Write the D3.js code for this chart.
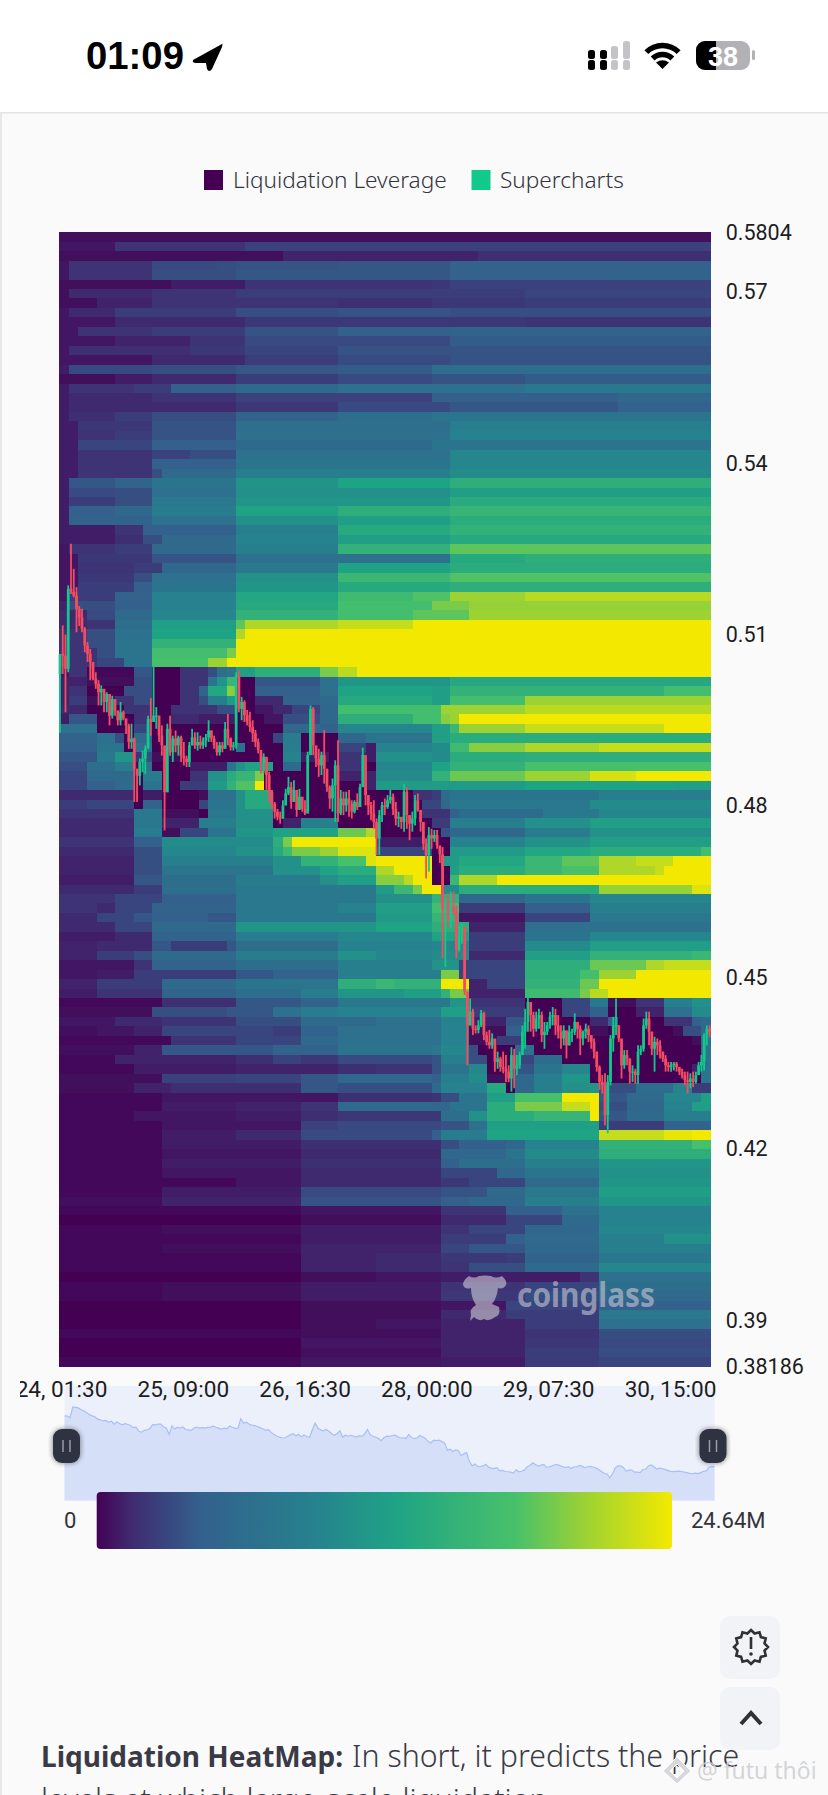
<!DOCTYPE html>
<html><head><meta charset="utf-8">
<style>html,body{margin:0;padding:0;background:#fafafa;overflow:hidden}svg{display:block}</style>
<script src="https://cdn.jsdelivr.net/npm/d3@7"></script>
</head><body><svg id="c" width="828" height="1795"></svg>
<script>
// ---- labels ----
const priceTicks=[0.5804,0.57,0.54,0.51,0.48,0.45,0.42,0.39,0.38186];
const priceLabels=["0.5804","0.57","0.54","0.51","0.48","0.45","0.42","0.39","0.38186"];
const timeLabels=["24, 01:30","25, 09:00","26, 16:30","28, 00:00","29, 07:30","30, 15:00"];
const legendNames=["Liquidation Leverage","Supercharts"];
const colorMin="0",colorMax="24.64M";
const colorDomain=[0,6,18,38,52,73,85,100];
const colorRange=["#440154","#3f2a70","#33608d","#26828e","#1fa385","#49c16a","#9dd233","#f3e900"];
// ---- heatmap: one list per price bucket, top to bottom. [level, fromColumn, level, fromColumn, level ...], level in % of 24.64M
const heatRows=[
[2],
[3,6,8,20,11],
[2,24,5,45,7],
[3,1,8,10,13,17,14,19,15,30,16,42,19],
[3,1,8,10,14,19,16,42,19,60,20],
[2,12,4,20,8,40,9,42,11],
[2,1,6,10,8,19,10,50,12],
[2,4,5,10,8,30,7,40,9,50,10],
[3,1,6,6,10,19,14,30,15,42,14],
[3,6,6,20,9,50,8],
[3,2,8,10,10,20,15,30,18,42,20],
[3,6,5,14,8,20,13,42,17],
[3,1,7,14,9,20,12,30,15,42,15],
[3,10,6,20,10,30,13,42,15],
[4,1,13,10,14,19,16,30,17,40,26],
[2,6,4,10,6,19,10,30,13,40,15,50,17],
[4,1,8,8,10,12,18,19,24,30,28,50,32],
[4,1,6,10,8,19,11,40,18,60,22],
[4,1,6,19,9,30,13,42,16,60,19],
[4,1,7,6,10,10,14,19,20,30,26,40,30],
[4,2,9,10,15,19,27,42,35],
[4,2,8,6,10,10,15,19,28,42,38],
[4,2,12,10,18,19,24,40,30],
[4,2,8,10,11,14,14,19,28,42,40],
[4,2,8,10,18,19,30,42,40],
[4,2,8,10,14,11,24,19,36,42,42],
[4,1,16,6,20,10,30,19,45,30,52,42,60],
[4,1,13,6,14,10,28,19,44,42,50],
[4,1,10,6,14,10,32,19,46,42,57],
[4,1,18,6,22,10,34,19,52,30,60,42,64],
[4,1,20,10,28,19,44,30,50,42,58],
[4,6,8,9,18,19,36,30,56,42,62],
[4,6,7,9,14,11,24,19,38,30,50,42,56],
[3,1,8,6,10,10,24,19,36,30,62,42,76],
[3,2,9,10,15,19,28,42,56,50,60],
[3,2,8,8,10,11,22,19,32,30,52,42,58],
[3,2,9,8,14,10,28,19,44,30,66,42,74],
[3,2,10,8,18,10,30,19,46,30,56,42,60],
[3,1,10,6,20,10,38,19,54,30,68,38,74,42,85,50,90],
[5,1,14,6,18,10,38,19,56,30,70,40,80,44,84],
[6,3,13,6,24,10,40,19,62,30,70,38,76,44,85],
[6,3,8,6,26,10,50,19,76,20,88,30,92,38,100],
[8,3,14,6,28,10,52,19,88,20,100],
[8,3,14,6,30,10,62,19,100],
[8,4,14,6,30,10,70,18,80,19,100],
[8,4,12,7,30,10,72,16,85,18,100],
[3,1,8,3,1,8,16,10,0,13,8,16,14,17,26,18,30,19,50,21,60,28,80,30,90,32,100],
[5,3,2,8,14,10,0,13,8,16,30,17,45,18,65,19,0,21,16,28,28,30,46,42,55],
[5,1,8,3,0,7,14,10,0,13,8,15,20,16,54,18,82,19,0,21,18,28,28,30,52,40,50,42,62,65,70],
[5,1,10,3,2,6,8,8,14,10,0,13,8,15,14,16,36,18,48,19,0,21,6,24,20,28,24,30,56,40,50,42,70,50,85],
[6,3,0,7,8,10,0,12,8,17,14,19,0,21,3,23,6,25,12,28,22,30,70,41,85,50,90],
[4,1,16,4,0,8,8,10,0,12,6,15,4,19,0,22,3,24,14,28,22,30,60,38,70,41,82,42,85,43,100],
[28,4,0,8,12,10,0,24,22,28,20,30,40,40,50,42,66,43,85,50,92,65,100],
[20,4,28,6,14,7,0,8,24,10,0,23,12,24,34,26,0,30,22,33,30,40,50,42,58],
[18,4,30,7,0,8,28,10,0,19,28,20,0,24,36,26,0,30,12,33,4,34,38,40,42,42,68,44,82,50,88,58,92],
[16,4,32,6,46,8,8,9,14,10,2,13,0,24,38,26,4,29,0,30,8,33,4,34,44,40,42,42,58,50,60],
[14,3,26,6,34,8,2,9,28,10,0,14,4,18,30,19,45,20,52,23,0,24,24,26,0,30,8,33,0,34,40,40,52,42,62,50,72],
[12,3,24,8,0,9,34,11,0,14,8,16,44,18,58,19,64,21,80,22,0,30,5,34,42,40,62,42,78,50,85,57,95,62,100],
[12,3,18,6,24,8,0,9,30,11,0,13,10,16,48,18,62,19,74,21,100,22,0,33,5,34,48,40,48,50,52,66,50],
[6,8,0,9,4,11,0,15,2,16,28,19,44,20,56,23,0,38,8,40,10,41,25,42,30,58,35],
[10,3,12,8,0,9,20,11,0,15,12,16,30,19,44,20,56,23,0,39,12,41,22,42,32,57,42],
[8,8,32,11,2,15,0,16,32,19,44,23,0,39,8,42,18,43,25,52,32,58,40],
[6,8,32,11,5,15,36,19,44,23,0,24,5,26,36,30,0,40,10,42,36,50,44,57,50],
[6,8,34,11,2,13,12,16,30,19,46,23,52,30,78,33,88,34,0,41,15,42,22,50,34,57,44],
[8,8,18,11,42,23,60,24,80,25,100,34,4,40,0,42,38,50,44,57,50],
[6,8,14,11,40,19,44,23,56,24,68,25,80,28,85,30,96,34,12,40,0,42,48,50,54,57,58,69,70],
[5,8,14,11,36,23,44,26,62,30,72,33,96,34,100,40,0,41,48,43,54,50,66,54,76,58,88,62,92,66,100],
[5,8,14,11,30,23,44,28,52,30,58,34,88,36,100,40,0,42,50,43,58,50,66,54,72,58,88,64,92,65,100],
[4,8,16,11,26,19,34,28,44,30,50,34,82,37,90,38,100,40,0,42,66,43,88,47,100],
[6,8,10,11,26,19,32,34,48,36,66,38,80,39,100,41,42,43,58,58,84,68,96],
[8,6,12,11,18,19,32,34,44,40,62,43,22,50,30,57,40],
[8,4,6,6,12,10,20,19,32,30,38,34,50,40,70,43,10,50,18,57,36],
[6,4,12,8,16,10,18,16,16,19,32,34,48,40,64,43,3,50,12,57,32],
[6,6,12,10,24,19,46,34,52,40,60,44,5,50,28],
[4,6,6,10,20,19,34,30,40,40,52,44,10,50,30,57,40],
[5,4,6,10,16,12,10,18,16,19,26,30,38,40,40,44,10,50,42,57,50],
[5,4,10,8,14,10,24,19,34,30,44,34,40,40,42,44,6,50,50,57,62,68,66],
[3,8,8,10,20,19,26,30,36,40,45,43,12,50,60,57,78,63,88,65,92],
[3,4,4,8,10,12,10,19,16,23,20,30,36,41,80,43,12,50,60,56,70,58,85,62,100],
[5,4,10,11,24,19,30,30,60,34,66,36,62,41,100,44,5,46,12,50,62,56,78,58,100],
[4,4,8,11,20,19,26,26,34,30,46,37,50,41,62,42,80,44,5,50,68,56,80,57,90,59,100],
[1,11,7,19,16,26,20,30,32,42,46,44,8,50,0,54,12,57,32,59,2,62,8,65,36,68,44],
[2,10,14,18,16,23,28,26,34,30,38,41,50,44,10,50,0,54,12,57,18,59,0,62,5,65,28,68,42],
[3,6,6,11,8,19,14,26,24,34,28,41,38,44,5,48,16,50,0,57,6,59,18,60,0,65,8,68,18,69,24],
[2,4,3,8,5,11,12,23,10,26,20,30,28,41,38,44,2,48,18,50,0,57,2,59,0,66,2,67,14,69,24],
[1,12,8,19,12,26,24,30,28,41,38,44,2,47,10,50,0,68,2,69,30],
[2,8,5,11,16,23,20,26,20,30,30,40,32,41,40,44,14,45,0,49,22,50,28,51,0,69,30],
[1,6,5,19,7,23,11,26,9,30,13,40,15,41,36,44,14,46,0,49,12,51,25,54,0,69,30],
[1,8,4,19,5,26,5,30,7,34,8,40,15,41,30,44,40,46,0,49,15,51,30,54,40,57,0,68,5,69,30],
[2,11,11,19,12,26,16,30,22,40,18,41,36,44,42,46,2,49,22,51,36,54,46,57,0,69,30],
[2,8,5,12,7,26,16,30,14,40,24,41,38,46,56,48,0,49,22,51,36,54,44,57,46,58,14,62,25,66,38,68,10],
[1,11,3,30,7,40,8,41,14,43,30,46,50,49,72,54,100,58,16,61,24,65,40,69,50],
[1,11,4,19,5,26,8,30,24,40,22,42,30,46,58,49,80,54,92,57,100,58,14,61,22,65,38,68,50],
[1,8,3,19,4,26,7,30,9,41,26,44,44,46,58,51,64,57,100,58,16,61,24,65,36],
[1,11,3,26,11,30,13,41,15,44,28,46,50,58,10,65,20],
[1,11,4,19,6,26,13,40,18,41,34,46,52,58,92,65,98,68,100],
[1,11,4,26,7,41,14,43,18,48,22,50,38,58,62,68,72],
[1,11,3,26,6,41,22,48,30,50,42,58,60],
[1,11,4,26,7,41,18,43,26,50,36,58,46],
[1,11,3,26,6,41,12,47,22,50,30,58,44],
[1,19,3,26,6,41,9,44,12,50,24,58,46],
[1,11,4,26,13,41,15,46,24,50,32,58,50],
[2,11,5,26,15,41,18,44,22,50,36,58,46],
[1,26,3,41,8,48,18,54,28,58,38],
[0,26,2,41,6,48,12,54,24,58,38],
[1,11,2,26,4,41,8,44,12,50,22,58,40],
[1,26,4,41,10,48,18,50,24,58,36,65,44],
[1,11,2,26,5,41,12,44,16,50,22,58,36],
[1,26,5,34,6,41,9,48,10,50,20,58,32],
[1,26,5,34,6,41,8,44,14,50,24,58,40],
[0,26,2,34,3,41,4,56,8,58,28],
[1,11,2,26,4,41,8,50,12,58,26],
[1,11,2,26,4,41,9,50,14,58,24],
[0,26,2,41,3,48,12,58,18],
[0,26,2,41,6,48,10,58,32],
[0,26,2,34,3,41,5,50,10,58,28],
[1,26,2,41,5,50,8,58,14],
[0,26,3,41,5,50,9,58,13],
[0,26,2,41,5,50,10,58,14],
[1,26,3,41,4,50,10,58,12]
];
const heatColumns=70;
// ---- candles, price in 1/10000 ----
const firstOpen=5031;
const candleHigh=[5066,5116,5100,5186,5259,5215,5183,5150,5145,5113,5087,5075,5052,5034,5020,5011,4999,4999,4976,4993,4987,4967,4982,4967,4953,4944,4944,4920,4865,4883,4897,4906,4958,4989,5046,4973,4958,4941,4888,4944,4958,4923,4932,4923,4923,4912,4888,4912,4935,4929,4929,4923,4920,4926,4950,4932,4923,4912,4912,4912,4947,4961,4920,4912,5034,5037,
4991,4985,4968,4965,4950,4933,4918,4895,4892,4883,4860,4828,4807,4795,4790,4810,4830,4851,4842,4845,4828,4830,4816,4810,4895,4976,4973,4903,4900,4895,4933,4865,4836,4848,4880,4915,4828,4825,4825,4828,4810,4810,4822,4839,4902,4842,4819,4807,4810,4778,4793,4807,4813,4819,4828,4822,4807,4790,4778,4839,4833,4784,4790,4819,4822,4790,4766,4743,4763,4760,4758,4758,4728,4728,
4638,4647,4650,4650,4626,4591,4594,4588,4475,4463,4445,4416,4425,4443,4440,4405,4408,4402,4381,4370,4361,4370,4364,4346,4378,4375,4364,4370,4416,4445,4472,4451,4440,4440,4445,4440,4422,4422,4440,4448,4445,4434,4416,4416,4407,4416,4410,4437,4422,4416,4407,4419,4416,4399,4393,4370,4346,4329,4332,4329,4399,4431,4463,4416,4375,4373,4373,4358,4346,4340,4381,4381,4428,4440,4440,4405,4396,4393,4390,4370,4364,4352,4352,4352,4352,4343,4340,4335,4335,4332,4335,4335,4352,4364,4402,4416,4416];
const candleLow=[4928,5031,4964,5034,5171,5165,5104,5115,5104,5069,5052,5020,5020,5005,4976,4976,4964,4964,4941,4953,4958,4941,4941,4950,4926,4900,4900,4807,4807,4836,4859,4856,4912,4923,4950,4935,4912,4888,4757,4824,4888,4877,4894,4888,4877,4871,4868,4868,4906,4900,4897,4900,4900,4903,4912,4912,4900,4888,4888,4894,4900,4906,4897,4897,4900,4964,
4950,4947,4941,4930,4912,4903,4892,4857,4857,4828,4807,4795,4778,4775,4769,4778,4801,4819,4795,4813,4781,4795,4790,4784,4787,4889,4889,4868,4851,4854,4839,4825,4795,4790,4772,4772,4784,4784,4790,4781,4778,4787,4793,4801,4833,4801,4784,4775,4760,4714,4714,4772,4784,4795,4804,4784,4766,4763,4760,4755,4760,4740,4755,4766,4790,4755,4723,4673,4685,4725,4737,4725,4700,4533,
4518,4588,4586,4609,4533,4545,4559,4469,4346,4416,4399,4402,4402,4413,4390,4381,4375,4375,4335,4340,4335,4332,4317,4317,4300,4306,4329,4340,4364,4375,4405,4405,4396,4405,4410,4387,4375,4399,4410,4416,4399,4393,4375,4381,4358,4381,4387,4399,4393,4364,4381,4393,4387,4375,4358,4335,4303,4297,4241,4227,4311,4370,4399,4387,4323,4340,4346,4314,4317,4314,4314,4364,4370,4410,4381,4364,4335,4364,4358,4352,4335,4335,4335,4337,4335,4329,4323,4311,4297,4306,4308,4314,4329,4335,4337,4381,4395];
const candleClose=[5066,5063,5040,5180,5175,5168,5145,5130,5110,5081,5066,5052,5023,5014,4999,5005,4982,4996,4958,4987,4967,4950,4964,4953,4941,4912,4918,4865,4853,4877,4883,4900,4952,4947,4958,4958,4923,4906,4824,4935,4894,4918,4906,4920,4888,4883,4877,4906,4920,4906,4912,4906,4915,4920,4932,4918,4906,4894,4906,4900,4935,4918,4903,4906,5028,4970,
4982,4959,4947,4938,4927,4912,4898,4877,4886,4854,4825,4804,4790,4781,4778,4801,4822,4833,4807,4828,4793,4816,4795,4787,4889,4970,4906,4883,4871,4889,4865,4833,4813,4836,4871,4787,4813,4801,4813,4804,4790,4807,4798,4833,4889,4819,4801,4787,4772,4743,4784,4801,4798,4810,4816,4795,4778,4781,4772,4825,4784,4769,4778,4810,4793,4772,4734,4714,4749,4743,4749,4731,4715,4620,
4632,4603,4623,4615,4548,4574,4588,4475,4416,4440,4410,4408,4416,4437,4399,4387,4381,4393,4352,4358,4343,4340,4335,4323,4364,4340,4346,4364,4405,4422,4457,4434,4410,4428,4434,4399,4405,4416,4431,4434,4416,4405,4393,4407,4381,4405,4405,4422,4410,4393,4405,4410,4399,4387,4370,4343,4317,4311,4259,4317,4393,4416,4416,4393,4346,4364,4358,4335,4335,4329,4370,4375,4416,4428,4405,4375,4387,4381,4370,4358,4346,4343,4346,4349,4343,4335,4329,4320,4317,4323,4317,4329,4346,4352,4399,4410,4405];
// ---- layout ----
const svg=d3.select("#c");
const px=[59.3,710.7], py=[232.3,1366.7];
const sans="'Noto Sans',Roboto,sans-serif", din="Roboto,sans-serif";
const defs=svg.append("defs");
svg.append("rect").attr("width",828).attr("height",1795).attr("fill","#fafafa");
svg.append("rect").attr("width",828).attr("height",112).attr("fill","#fff");
svg.append("rect").attr("y",112).attr("width",828).attr("height",1.5).attr("fill","#e4e4e6");
svg.append("rect").attr("y",113).attr("width",2).attr("height",1682).attr("fill","#e8e8ea");

// status bar
const st=svg.append("g");
st.append("text").attr("x",86).attr("y",69).attr("font-family","'Liberation Sans',Arial,sans-serif").attr("font-weight",700).attr("font-size",38).attr("textLength",98).attr("lengthAdjust","spacingAndGlyphs").attr("fill","#000").text("01:09");
st.append("path").attr("d","M222 44 L193 60 Q192 63 196 63 L206 63 L207 69 Q209 73 212 69 L222 47 Q223 43 222 44Z").attr("fill","#000");
const sigBars=[[588,50,59,1],[588,60,70,1],[600,50,59,1],[600,60,70,1],[611,46,59,0],[611,60,70,0],[623,41,59,0],[623,60,70,0]];
st.selectAll(".sg").data(sigBars).join("rect").attr("x",d=>d[0]).attr("y",d=>d[1]).attr("width",7).attr("height",d=>d[2]-d[1]).attr("rx",2.5).attr("fill",d=>d[3]?"#000":"#c4c4c8");
st.selectAll(".wf").data([[23,5.5],[14,5.5]]).join("path").attr("d",d=>d3.arc()({innerRadius:d[0]-d[1]/2,outerRadius:d[0]+d[1]/2,startAngle:-0.78,endAngle:0.78})).attr("transform","translate(662.5,68.5)").attr("fill","#000");
st.append("path").attr("d","M656 62.5 L662.5 69 L669 62.5 Q662.5 58 656 62.5Z").attr("fill","#000");
st.append("rect").attr("x",696).attr("y",41).attr("width",54).attr("height",29).attr("rx",9).attr("fill","#b2b2b6");
st.append("clipPath").attr("id","batt").append("rect").attr("x",696).attr("y",41).attr("width",20).attr("height",29);
st.append("rect").attr("x",696).attr("y",41).attr("width",54).attr("height",29).attr("rx",9).attr("fill","#000").attr("clip-path","url(#batt)");
st.append("rect").attr("x",752).attr("y",50).attr("width",3).attr("height",10).attr("rx",1.5).attr("fill","#b2b2b6");
st.append("text").attr("x",723).attr("y",65.5).attr("text-anchor","middle").attr("font-family","'Liberation Sans',Arial,sans-serif").attr("font-weight",700).attr("font-size",27).attr("fill","#fff").text("38");

// legend
const legendKeys=[{n:legendNames[0],c:"#440154",x:204,tx:233},{n:legendNames[1],c:"#10c98a",x:471.5,tx:500}];
const lg=svg.selectAll(".lg").data(legendKeys).join("g");
lg.append("rect").attr("x",d=>d.x).attr("y",170).attr("width",19).attr("height",20).attr("fill",d=>d.c);
lg.append("text").attr("x",d=>d.tx).attr("y",188).attr("font-family",sans).attr("font-size",22.6).attr("font-weight",300).attr("fill","#34343f").text(d=>d.n);

// heatmap
const color=d3.scaleLinear().domain(colorDomain).range(colorRange);
const xCol=d3.scaleLinear().domain([0,heatColumns]).range(px);
const yRow=d3.scaleBand().domain(d3.range(heatRows.length)).range(py);
const y=d3.scaleLinear().domain([0.38186,0.5804]).range([py[1],py[0]]);
const heat=heatRows.flatMap((row,r)=>{
  const out=[];let from=0;let v=row[0];
  for(let i=1;i<row.length;i+=2){out.push({r,from,to:row[i],v});from=row[i];v=row[i+1];}
  out.push({r,from,to:heatColumns,v});return out;
});
svg.append("g").attr("shape-rendering","crispEdges").selectAll("rect").data(heat).join("rect")
 .attr("x",d=>xCol(d.from)).attr("width",d=>xCol(d.to)-xCol(d.from)+.4)
 .attr("y",d=>yRow(d.r)).attr("height",yRow.bandwidth()+.4).attr("fill",d=>color(d.v));

// candles
const candles=candleClose.map((c,i)=>({i,c:c/1e4,o:(i?candleClose[i-1]:firstOpen)/1e4,h:candleHigh[i]/1e4,l:candleLow[i]/1e4}));
const xCandle=d3.scaleBand().domain(d3.range(candles.length)).range([58.6,711]);
const cg=svg.append("g");
const up=d=>d.c>=d.o, cc=d=>up(d)?"#12c88a":"#f44c62";
const cx=d=>xCandle(d.i)+xCandle.bandwidth()/2;
cg.selectAll(".w").data(candles).join("line").attr("x1",cx).attr("x2",cx).attr("y1",d=>y(d.h)).attr("y2",d=>y(d.l)).attr("stroke",cc).attr("stroke-width",1.8);
cg.selectAll(".b").data(candles).join("rect").attr("x",d=>xCandle(d.i)).attr("width",xCandle.bandwidth())
 .attr("y",d=>y(Math.max(d.o,d.c))).attr("height",d=>Math.max(1,Math.abs(y(d.o)-y(d.c)))).attr("fill",cc);

// y axis
const yAxis=d3.axisRight(y).tickValues(priceTicks).tickFormat((d,i)=>priceLabels[i]).tickSize(0).tickPadding(15);
const ya=svg.append("g").attr("transform",`translate(${px[1]},0)`).call(yAxis);
ya.select(".domain").remove();
ya.selectAll("text").attr("font-family",din).attr("font-size",21.5).attr("fill","#1d1d22");

// watermark
const wm=svg.append("g").attr("fill","#c9c8d2").attr("fill-opacity",.62);
wm.append("text").attr("x",517).attr("y",1307).attr("font-family",sans).attr("font-weight",700).attr("font-size",34).attr("textLength",138).attr("lengthAdjust","spacingAndGlyphs").text("coinglass");
wm.append("path").attr("d","M469 1276 Q474 1279 479 1276 Q485 1275 491 1276 Q496 1279 502 1276 Q508 1282 506 1285 Q503 1290 498 1288 Q497 1298 492 1304 L499 1307 Q501 1315 495 1317 Q489 1322 484 1319 Q479 1322 474 1317 L470 1321 L471 1315 Q469 1309 476 1305 Q471 1298 471 1288 Q465 1290 463 1285 Q463 1280 469 1276Z");

// slider
const slX=[64.5,714.5], slY=[1386,1500.5];
svg.append("rect").attr("x",slX[0]).attr("y",slY[0]).attr("width",slX[1]-slX[0]).attr("height",slY[1]-slY[0]).attr("fill","#ecf0fb");
const slx=d3.scaleLinear().domain([0,candles.length-1]).range(slX);
const sly=d3.scaleLinear().domain(d3.extent(candles,d=>d.c)).range([1478,1407]);
svg.append("path").datum(candles).attr("fill","#d5dff8").attr("d",d3.area().x(d=>slx(d.i)).y0(slY[1]).y1(d=>sly(d.c)));
svg.append("path").datum(candles).attr("fill","none").attr("stroke","#a9c0f6").attr("stroke-width",1.2).attr("d",d3.line().x(d=>slx(d.i)).y(d=>sly(d.c)));
const xAxisScale=d3.scaleLinear().domain([0,timeLabels.length-1]).range([61,670]);
defs.append("clipPath").attr("id","xclip").append("rect").attr("x",20).attr("y",1370).attr("width",700).attr("height",50);
const xa=svg.append("g").attr("clip-path","url(#xclip)").append("g").attr("transform","translate(0,1381)").call(d3.axisBottom(xAxisScale).tickValues(d3.range(timeLabels.length)).tickFormat(i=>timeLabels[i]).tickSize(0).tickPadding(0));
xa.select(".domain").remove();
xa.selectAll("text").attr("font-family",din).attr("font-size",22.6).attr("fill","#1d1d22");
defs.append("filter").attr("id","hs").append("feGaussianBlur").attr("stdDeviation",2);
[66.5,713].forEach(h=>{
 const g=svg.append("g").attr("transform",`translate(${h},1446)`);
 g.append("rect").attr("x",-15).attr("y",-18).attr("width",30).attr("height",36).attr("rx",11).attr("fill","#555").attr("opacity",.5).attr("filter","url(#hs)");
 g.append("rect").attr("x",-13.5).attr("y",-17).attr("width",27).attr("height",34).attr("rx",9).attr("fill","#2f3240");
 g.selectAll("line").data([-3.5,3.5]).join("line").attr("x1",d=>d).attr("x2",d=>d).attr("y1",-6).attr("y2",6).attr("stroke","#9a9ca6").attr("stroke-width",1.5);
});

// colour bar
const cbX=[96.7,672], cbY=[1492,1549];
const cbScale=d3.scaleLinear().domain([0,100]).range(cbX);
const grad=defs.append("linearGradient").attr("id","cb");
grad.selectAll("stop").data(colorDomain).join("stop").attr("offset",d=>d+"%").attr("stop-color",d=>color(d));
svg.append("rect").attr("x",cbScale(0)).attr("y",cbY[0]).attr("width",cbScale(100)-cbScale(0)).attr("height",cbY[1]-cbY[0]).attr("rx",4).attr("fill","url(#cb)");
svg.append("text").attr("x",64).attr("y",1528).attr("font-family",din).attr("font-size",22).attr("fill","#33333b").text(colorMin);
svg.append("text").attr("x",691).attr("y",1528).attr("font-family",din).attr("font-size",22).attr("fill","#33333b").text(colorMax);

// side buttons
[[720,1616],[720,1687]].forEach(b=>svg.append("rect").attr("x",b[0]).attr("y",b[1]).attr("width",60).attr("height",63).attr("rx",10).attr("fill","#f2f3f6"));
const star=d3.range(24).map(i=>{const a=i/24*2*Math.PI,r=i%2?14:17;return [751+r*Math.sin(a),1647-r*Math.cos(a)];});
svg.append("path").attr("d",d3.line().curve(d3.curveLinearClosed)(star)).attr("fill","none").attr("stroke","#2f3138").attr("stroke-width",2.6);
svg.append("rect").attr("x",749.7).attr("y",1637).attr("width",2.6).attr("height",12).attr("fill","#2f3138");
svg.append("circle").attr("cx",751).attr("cy",1654).attr("r",1.8).attr("fill","#2f3138");
svg.append("path").attr("d","M741 1724 L751 1713 L761 1724").attr("fill","none").attr("stroke","#2f3138").attr("stroke-width",4);

// page text
svg.append("text").attr("x",41).attr("y",1767).attr("font-family",sans).attr("font-size",28).attr("fill","#3a3a46")
 .call(t=>{t.append("tspan").attr("font-weight",700).text("Liquidation HeatMap:");t.append("tspan").attr("dx",9).attr("font-weight",300).attr("font-size",30.3).text("In short, it predicts the price");});
svg.append("text").attr("x",41).attr("y",1811).attr("font-family",sans).attr("font-size",30.3).attr("font-weight",300).attr("fill","#3a3a46").text("levels at which large-scale liquidation");
svg.append("text").attr("x",697).attr("y",1779).attr("font-family",sans).attr("font-size",23).attr("fill","#cfcfd4").attr("fill-opacity",.9).text("@ futu thôi");
svg.append("path").attr("d","M677 1757 L691 1771 L677 1784 L663 1771Z M677 1764 L684 1771 L677 1778 L670 1771Z").attr("fill","#d8d8dc").attr("fill-rule","evenodd").attr("stroke","#fff");
</script></body></html>
